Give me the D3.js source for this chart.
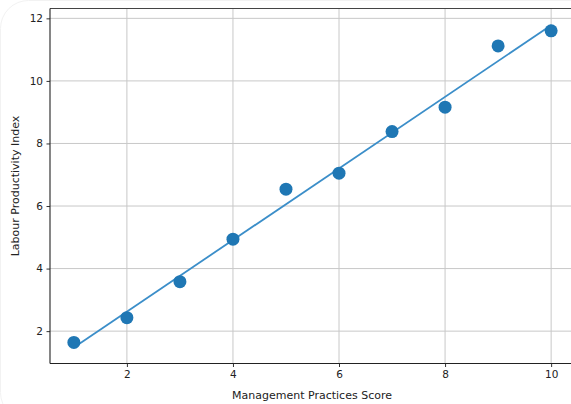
<!DOCTYPE html>
<html><head><meta charset="utf-8">
<script src="https://cdn.jsdelivr.net/npm/d3@7"></script>
<style>body{margin:0;background:#fff}svg{display:block;font-family:"DejaVu Sans",sans-serif}</style>
</head><body><svg id="c" width="571" height="404"></svg>
<script>
const scores = [1,2,3,4,5,6,7,8,9,10];
const productivity = [1.64,2.43,3.58,4.94,6.54,7.05,8.38,9.16,11.12,11.6];
const fitX = [1,10];
const fitY = [1.48,11.78];
const xTicks = [2,4,6,8,10];
const yTicks = [2,4,6,8,10,12];

const svg = d3.select("#c");
const L=50, R=575, T=8.5, B=363.5;
const x = d3.scaleLinear().domain([0.55,10.45]).range([L,R]);
const y = d3.scaleLinear().domain([0.965,12.315]).range([B,T]);

svg.append("rect").attr("x",0.5).attr("y",0.5).attr("width",600).attr("height",420)
  .attr("rx",28).attr("fill","none").attr("stroke","#f2f2f2");

// grid
svg.append("g").selectAll("line").data(xTicks).join("line")
  .attr("x1",d=>x(d)).attr("x2",d=>x(d)).attr("y1",T).attr("y2",B)
  .attr("stroke","#c8c8c8").attr("stroke-width",1);
svg.append("g").selectAll("line").data(yTicks).join("line")
  .attr("y1",d=>y(d)).attr("y2",d=>y(d)).attr("x1",L).attr("x2",R)
  .attr("stroke","#c8c8c8").attr("stroke-width",1);

// axes
const xa = svg.append("g").attr("transform",`translate(0,${B})`)
  .call(d3.axisBottom(x).tickValues(xTicks).tickSize(3.5).tickPadding(3.5).tickFormat(d3.format("d")));
const ya = svg.append("g").attr("transform",`translate(${L},0)`)
  .call(d3.axisLeft(y).tickValues(yTicks).tickSize(3.5).tickPadding(3.5).tickFormat(d3.format("d")));
[xa,ya].forEach(a=>{a.select(".domain").remove();
  a.selectAll("text").attr("font-size",10.5).attr("fill","#222").attr("font-family","DejaVu Sans");
  a.selectAll("line").attr("stroke","#333");});

// spines
svg.append("line").attr("x1",L).attr("x2",R).attr("y1",B).attr("y2",B).attr("stroke","#222").attr("stroke-width",1.1);
svg.append("line").attr("x1",L).attr("x2",R).attr("y1",T).attr("y2",T).attr("stroke","#444").attr("stroke-width",1);
svg.append("line").attr("x1",L).attr("x2",L).attr("y1",T).attr("y2",B).attr("stroke","#222").attr("stroke-width",1.1);

// fit line
svg.append("path").datum(fitX.map((d,i)=>[d,fitY[i]]))
  .attr("d",d3.line().x(d=>x(d[0])).y(d=>y(d[1])))
  .attr("fill","none").attr("stroke","#3b8ec9").attr("stroke-width",1.8);

// points
svg.append("g").selectAll("circle").data(scores).join("circle")
  .attr("cx",d=>x(d)).attr("cy",(d,i)=>y(productivity[i])).attr("r",6.5)
  .attr("fill","#1f77b4");

// labels
svg.append("text").attr("x",312).attr("y",399).attr("text-anchor","middle")
  .attr("font-size",11).attr("fill","#222").text("Management Practices Score");
svg.append("text").attr("transform","translate(19,186) rotate(-90)").attr("text-anchor","middle")
  .attr("font-size",11).attr("fill","#222").text("Labour Productivity Index");
</script></body></html>
